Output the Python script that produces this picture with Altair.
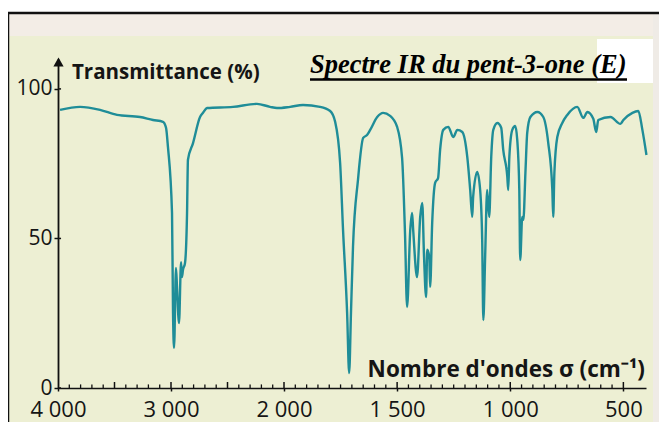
import altair as alt
import pandas as pd

# ---- spectrum data ----
wavenumber = [3982, 3805, 3628, 3478, 3274, 3159, 3071, 3044, 3027, 2991, 2982, 2973, 2956, 2947,
              2929, 2911, 2903, 2894, 2876, 2858, 2850, 2805, 2743, 2717, 2681, 2451, 2239, 2124,
              2062, 1973, 1916, 1841, 1796, 1774, 1752, 1739, 1721, 1712, 1704, 1695, 1673, 1650,
              1633, 1619, 1588, 1562, 1531, 1500, 1478, 1465, 1456, 1442, 1434, 1429, 1412, 1398,
              1389, 1381, 1372, 1367, 1358, 1354, 1345, 1332, 1319, 1310, 1296, 1274, 1252, 1234,
              1212, 1190, 1177, 1168, 1164, 1146, 1133, 1124, 1119, 1111, 1102, 1093, 1084, 1075,
              1057, 1040, 1031, 1013, 1009, 1004, 991, 978, 969, 960, 956, 947, 942, 933, 925, 911,
              880, 854, 832, 814, 810, 805, 792, 770, 748, 704, 677, 659, 633, 620, 611, 557, 513,
              500, 460, 434, 416, 398]
transmittance = [93.0, 94.0, 93.0, 91.3, 90.6, 89.6, 89.0, 87.0, 80.6, 58.5, 25.1, 13.4, 40.1, 33.8,
                 21.7, 42.1, 37.1, 39.5, 41.8, 58.5, 76.3, 81.9, 90.6, 92.0, 93.6, 94.0, 95.0, 94.0,
                 93.6, 94.0, 94.6, 94.0, 92.6, 89.0, 75.3, 52.8, 25.1, 5.0, 25.1, 47.2, 69.6, 83.6,
                 84.6, 86.3, 90.6, 92.0, 91.0, 87.3, 76.9, 51.2, 27.1, 52.8, 58.5, 52.8, 37.1, 57.2,
                 61.9, 43.8, 30.4, 46.2, 43.8, 33.8, 55.2, 68.6, 70.2, 79.6, 86.3, 87.3, 83.9, 86.3,
                 85.6, 77.3, 66.2, 57.2, 63.9, 72.2, 66.2, 49.5, 22.7, 43.8, 66.2, 57.2, 77.3, 86.3,
                 88.6, 87.0, 79.6, 70.6, 66.2, 77.3, 86.3, 87.6, 82.9, 66.2, 42.8, 57.2, 56.2, 71.9,
                 85.3, 90.6, 92.3, 90.6, 81.9, 66.2, 57.2, 71.9, 83.9, 88.6, 91.3, 94.0, 90.3, 92.3,
                 90.0, 85.6, 89.6, 90.6, 88.3, 89.6, 92.0, 92.6, 86.3, 77.9]

# ---- axis ticks ----
x_tick_values = [4000, 3000, 2000, 1500, 1000, 500]
x_tick_labels = ["4 000", "3 000", "2 000", "1 500", "1 000", "500"]
y_tick_values = [0, 50, 100]
minor_ticks = [3900, 3800, 3700, 3600, 3400, 3300, 3200, 3100, 2900, 2800, 2700, 2600, 2400, 2300,
               2200, 2100, 1950, 1900, 1850, 1800, 1750, 1700, 1650, 1600, 1550, 1450, 1400, 1350,
               1300, 1250, 1200, 1150, 1100, 1050, 950, 900, 850, 800, 750, 700, 650, 600, 550]
medium_ticks = [3500, 3000, 2500, 2000, 1500, 1000, 500]

title_text = "Spectre IR du pent-3-one (E)"
y_title = "Transmittance (%)"
x_title = "Nombre d'ondes \u03c3 (cm\u207b\u00b9)"

LINE = "#1f8d98"
BEIGE = "#edefd3"
FONT = "Open Sans"

xs = alt.Scale(domain=[4000, 2000, 400], range=[0, 226, 588], nice=False, zero=False)
ys = alt.Scale(domain=[0, 110], nice=False, zero=False)

label_expr = "".join(f"datum.value == {v} ? '{l}' : " for v, l in zip(x_tick_values, x_tick_labels)) + "''"

xaxis = alt.Axis(values=x_tick_values, labelExpr=label_expr, title=None, grid=False, zindex=2,
                 domainColor="#111111", domainWidth=1.6, tickColor="#111111", tickWidth=1.5,
                 tickSize=3, labelFont=FONT, labelFontSize=22, labelColor="#151515",
                 labelPadding=8, labelOverlap=False, labelFlush=False, labelBound=False)
yaxis = alt.Axis(values=y_tick_values, title=None, grid=False, zindex=2,
                 domainColor="#111111", domainWidth=1.8, tickColor="#111111", tickWidth=1.5,
                 tickSize=4, labelFont=FONT, labelFontSize=21, labelColor="#151515",
                 labelPadding=2, labelOverlap=False, labelFlush=False, labelBound=False)

spec_df = pd.DataFrame({"wavenumber": wavenumber, "T": transmittance})
one = pd.DataFrame({"k": [0]})

def vrect(x, x2, y, y2, color):
    return alt.Chart(one).mark_rect(color=color).encode(
        x=alt.value(x), x2=alt.value(x2), y=alt.value(y), y2=alt.value(y2))

bg = vrect(-49, 595, -45, 370, BEIGE)
top_band = vrect(-49, 595, -45, -23, "#f3ede6")
right_strip = vrect(595, 601, -45, 370, "#efebe6")
white_patch = vrect(539, 595, -20, 24, "#ffffff")

frame_top = alt.Chart(one).mark_rule(color="#111111", strokeWidth=2.5).encode(
    x=alt.value(-50), x2=alt.value(601), y=alt.value(-46))
frame_left = alt.Chart(one).mark_rule(color="#111111", strokeWidth=2.5).encode(
    x=alt.value(-50), y=alt.value(-46), y2=alt.value(370))

spectrum = alt.Chart(spec_df).mark_line(color=LINE, strokeWidth=2.4, interpolate="monotone").encode(
    x=alt.X("wavenumber:Q", scale=xs, axis=xaxis),
    y=alt.Y("T:Q", scale=ys, axis=yaxis),
    order=alt.Order("wavenumber:Q", sort="descending"),
)

minor_df = pd.DataFrame({"wavenumber": minor_ticks, "T": [0] * len(minor_ticks),
                         "T2": [1.2] * len(minor_ticks)})
minor = alt.Chart(minor_df).mark_rule(color="#111111", strokeWidth=1.3).encode(
    x=alt.X("wavenumber:Q", scale=xs, axis=xaxis),
    y=alt.Y("T:Q", scale=ys, axis=yaxis), y2="T2:Q")
med_df = pd.DataFrame({"wavenumber": medium_ticks, "T": [0] * len(medium_ticks),
                       "T2": [2.0] * len(medium_ticks)})
medium = alt.Chart(med_df).mark_rule(color="#111111", strokeWidth=1.5).encode(
    x=alt.X("wavenumber:Q", scale=xs, axis=xaxis),
    y=alt.Y("T:Q", scale=ys, axis=yaxis), y2="T2:Q")
yin_df = pd.DataFrame({"T": y_tick_values, "wavenumber": [4000] * 3, "w2": [3973] * 3})
yinner = alt.Chart(yin_df).mark_rule(color="#111111", strokeWidth=1.5).encode(
    x=alt.X("wavenumber:Q", scale=xs, axis=xaxis), x2="w2:Q",
    y=alt.Y("T:Q", scale=ys, axis=yaxis))

arrow = alt.Chart(one).mark_point(shape="triangle-up", filled=True, color="#111111", size=105, opacity=1).encode(
    x=alt.value(0.5), y=alt.value(3))

t_y = alt.Chart(one).mark_text(text=y_title, font=FONT, fontSize=20.5, fontWeight="bold",
                               color="#151515", align="left", baseline="alphabetic").encode(
    x=alt.value(14), y=alt.value(20))
t_x = alt.Chart(one).mark_text(text=x_title, font=FONT, fontSize=22.5, fontWeight="bold",
                               color="#151515", align="right", baseline="alphabetic").encode(
    x=alt.value(587), y=alt.value(318))
t_title = alt.Chart(one).mark_text(text=title_text, font="Liberation Serif", fontSize=26.5,
                                   fontWeight="bold", fontStyle="italic", color="#000000",
                                   align="left", baseline="alphabetic").encode(
    x=alt.value(252), y=alt.value(14))
underline = alt.Chart(one).mark_rule(color="#000000", strokeWidth=2.5).encode(
    x=alt.value(252), x2=alt.value(569), y=alt.value(20.5))

chart = alt.layer(
    bg, top_band, right_strip, white_patch, frame_top, frame_left,
    spectrum, minor, medium, yinner, arrow, t_y, t_x, t_title, underline
).properties(
    width=588, height=329,
    padding={"left": 50, "top": 51, "right": 13, "bottom": 34},
    autosize=alt.AutoSizeParams(type="none"),
).configure(background="#ffffff").configure_view(strokeWidth=0)

chart.save("out.html", embed_options={"renderer": "svg", "actions": False})
